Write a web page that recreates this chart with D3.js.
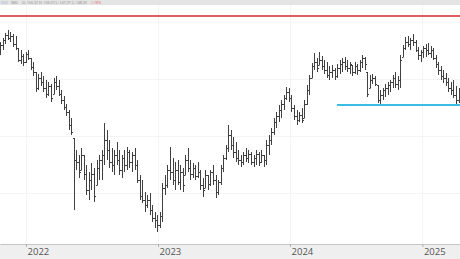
<!DOCTYPE html>
<html>
<head>
<meta charset="utf-8">
<script src="https://cdn.jsdelivr.net/npm/d3@7"></script>
<style>
  html, body { margin: 0; padding: 0; background: #fff; }
  svg { display: block; }
</style>
</head>
<body>
<div id="chart"></div>
<script>
// weekly bars, first bar week ending 2021-10-22
const firstWeek = new Date(2021, 9, 22)
const highs = [258,262,267,270,268,266,264,252,250,246,248,250,242,238,228,226,228,224,220,218,
  216,222,224,220,210,204,196,190,182,162,150,145,152,145,135,128,137,132,140,145,
  150,177,170,160,152,150,158,150,145,150,153,150,148,152,140,125,120,108,105,107,
  95,88,85,88,117,125,135,153,142,138,140,135,132,145,152,140,137,135,138,130,
  122,130,125,130,135,125,120,135,145,155,175,170,163,158,150,145,148,152,150,148,
  145,150,148,150,145,160,165,172,182,188,195,200,205,213,212,205,195,190,188,192,
  200,215,225,237,247,242,248,244,240,238,234,235,232,236,240,242,243,240,238,235,
  238,236,240,245,243,228,225,226,224,215,210,212,216,218,220,225,228,224,245,255,
  263,264,262,266,260,253,250,254,256,257,254,252,245,238,234,230,227,222,218,220,
  214,212]
const lows = [245,250,256,260,258,253,250,238,236,234,237,240,230,224,208,210,214,208,202,204,
  198,206,210,204,196,190,184,170,165,90,130,122,130,120,105,100,110,98,115,120,
  120,135,140,132,128,125,135,125,122,128,130,132,128,130,117,100,97,88,92,85,
  78,72,68,72,78,105,112,120,115,110,115,110,108,125,128,120,122,120,122,110,
  103,112,110,114,115,102,105,115,128,140,148,150,142,138,135,133,135,138,137,135,
  133,135,134,137,133,135,145,155,165,172,178,182,190,200,198,188,180,175,178,177,
  182,195,205,222,230,228,235,230,226,222,220,222,220,222,226,228,230,228,226,224,
  226,225,228,232,230,203,212,216,214,197,196,200,203,205,208,212,212,210,212,243,
  250,253,250,254,248,240,238,242,243,245,242,240,232,225,220,217,214,208,205,202,
  195,197]
const closes = [255,260,265,262,264,256,252,240,244,238,246,242,233,228,212,222,218,212,206,214,
  202,218,214,206,200,193,188,175,168,140,138,128,145,126,110,120,126,104,132,140,
  145,160,150,138,135,145,140,130,142,135,148,138,145,135,120,104,100,95,100,90,
  82,80,75,84,112,115,130,128,120,130,118,128,115,140,132,126,132,124,128,115,
  110,125,116,128,120,108,118,132,142,152,165,155,148,142,140,138,145,142,146,138,
  142,146,138,145,140,155,160,168,178,184,190,196,202,208,202,192,184,180,185,180,
  196,210,222,234,238,232,240,234,230,225,228,230,224,232,236,238,234,232,236,228,
  234,230,238,242,236,206,220,222,216,200,205,210,212,215,218,222,216,220,240,252,
  258,256,260,258,250,245,248,252,250,247,250,242,236,230,224,222,218,212,210,205,
  200,208]

const resistance = 284
const support = 195
const supportFrom = new Date(2024, 4, 10)
const gridPrices = [278, 221, 164, 107]
const yearTicks = [new Date(2022, 0, 1), new Date(2023, 0, 1), new Date(2024, 0, 1), new Date(2025, 0, 1)]
const headerParts = ['SML', 'O: 156.37  H: 156.57  L: 147.27  C: 148.00', '-1.78%']

const width = 460, height = 259, axisTop = 244, headerH = 5

const bars = highs.map((h, i) => {
  const prev = i === 0 ? closes[0] : closes[i - 1]
  return {
    date: d3.timeDay.offset(firstWeek, 7 * i),
    high: h,
    low: lows[i],
    open: Math.max(lows[i], Math.min(h, prev)),
    close: closes[i]
  }
})

const x = d3.scaleTime()
  .domain([new Date(2021, 9, 21), new Date(2025, 3, 15)])
  .range([0, width])
const y = d3.scaleLinear().domain([0, 300]).range([300, 0])
const px = d => Math.round(x(d)) + 0.5

const svg = d3.select('#chart').append('svg')
  .attr('width', width)
  .attr('height', height)
  .style('font-family', '"Open Sans", sans-serif')

// grid
svg.append('g').selectAll('line').data(gridPrices).join('line')
  .attr('x1', 0).attr('x2', width)
  .attr('y1', d => Math.round(y(d)) + 0.5).attr('y2', d => Math.round(y(d)) + 0.5)
  .attr('stroke', '#f4f4f4')
svg.append('g').selectAll('line').data(yearTicks).join('line')
  .attr('x1', px).attr('x2', px)
  .attr('y1', headerH).attr('y2', axisTop)
  .attr('stroke', '#f4f4f4')

// header strip
svg.append('rect').attr('width', width).attr('height', headerH).attr('fill', '#e4e4e4')
svg.append('rect').attr('x', 1).attr('y', 1).attr('width', 7).attr('height', 3).attr('fill', '#cfd6df')
const head = svg.append('text').attr('x', 11).attr('y', 4).attr('font-size', 3.6).attr('fill', '#8a8a8a')
head.append('tspan').text(headerParts[0])
head.append('tspan').attr('dx', 4).text(headerParts[1])
head.append('tspan').attr('dx', 3).attr('fill', '#e06666').text(headerParts[2])

// resistance line
svg.append('line')
  .attr('x1', 0).attr('x2', width)
  .attr('y1', y(resistance)).attr('y2', y(resistance))
  .attr('stroke', '#d42a2a').attr('stroke-width', 1.6)

// OHLC bars
const g = svg.append('g').attr('stroke', '#404040').attr('stroke-width', 1)
g.selectAll('line.hl').data(bars).join('line')
  .attr('class', 'hl')
  .attr('x1', d => px(d.date)).attr('x2', d => px(d.date))
  .attr('y1', d => y(d.high)).attr('y2', d => y(d.low))
g.selectAll('line.op').data(bars).join('line')
  .attr('class', 'op')
  .attr('x1', d => px(d.date) - 1.5).attr('x2', d => px(d.date))
  .attr('y1', d => Math.round(y(d.open)) + 0.5).attr('y2', d => Math.round(y(d.open)) + 0.5)
g.selectAll('line.cl').data(bars).join('line')
  .attr('class', 'cl')
  .attr('x1', d => px(d.date)).attr('x2', d => px(d.date) + 1.5)
  .attr('y1', d => Math.round(y(d.close)) + 0.5).attr('y2', d => Math.round(y(d.close)) + 0.5)

// support line
svg.append('line')
  .attr('x1', x(supportFrom)).attr('x2', width)
  .attr('y1', y(support)).attr('y2', y(support))
  .attr('stroke', '#3cbde3').attr('stroke-width', 2)

// time axis
svg.append('rect').attr('y', axisTop).attr('width', width).attr('height', height - axisTop).attr('fill', '#efefef')
const axis = svg.append('g').attr('transform', `translate(0,${axisTop})`)
  .call(d3.axisBottom(x).tickValues(yearTicks).tickFormat(d3.timeFormat('%Y')).tickSize(3).tickSizeOuter(0))
axis.select('.domain').attr('stroke', '#c4c4c4')
axis.selectAll('.tick line').attr('stroke', '#b0b0b0')
axis.selectAll('.tick text')
  .attr('text-anchor', 'start').attr('x', 1).attr('y', 4)
  .attr('fill', '#555').attr('font-size', 9.5)
  .attr('font-family', '"Open Sans", sans-serif')
</script>
</body>
</html>
